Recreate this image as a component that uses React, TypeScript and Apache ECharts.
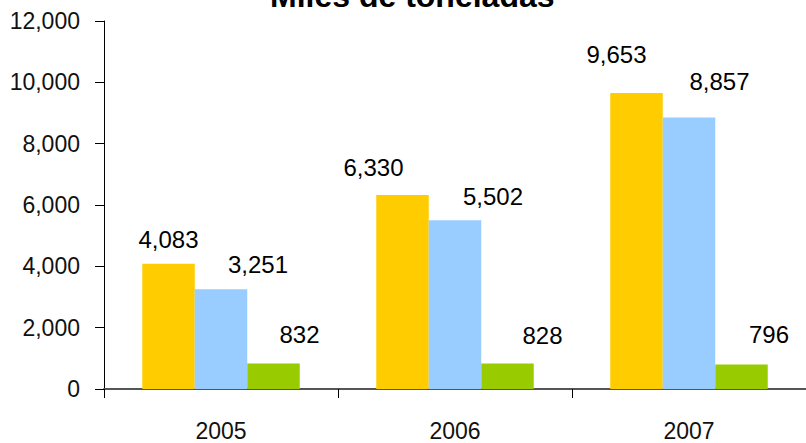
import React, { useEffect, useRef } from "react";
import * as echarts from "echarts";

const TITLE = "Miles de toneladas";
const categories = ["2005", "2006", "2007"];
const serieA = [4083, 6330, 9653];
const serieB = [3251, 5502, 8857];
const serieC = [832, 828, 796];
const yTicks = { min: 0, max: 12000, interval: 2000 };

// label shifts (layout only)
const shiftA = [[0, -12.6], [-29, -15.6], [-20, -26.6]];
const shiftB = [[37, -12.6], [38, -11.6], [30.5, -23.6]];
const shiftC = [[26, -17], [35, -16.6], [27.5, -17.6]];

const fmt = (v: number) => v.toLocaleString("en-US");

export default function App() {
  const ref = useRef<HTMLDivElement>(null);
  useEffect(() => {
    if (!ref.current) return;
    const chart = echarts.init(ref.current, null, { renderer: "svg" });
    const mk = (name: string, vals: number[], color: string, shifts: number[][]) => ({
      name,
      type: "bar",
      barGap: "0%",
      barCategoryGap: "32.7%",
      itemStyle: { color },
      label: {
        show: true,
        position: "top",
        distance: 0,
        formatter: (p: any) => fmt(p.value),
        fontFamily: "Liberation Sans, Arial, sans-serif",
        fontSize: 24,
        color: "#000",
      },
      data: vals.map((v, i) => ({ value: v, label: { offset: shifts[i] } })),
    });
    chart.setOption({
      animation: false,
      title: {
        text: TITLE,
        left: 270,
        top: -20,
        padding: 0,
        textStyle: {
          fontFamily: "Liberation Sans, Arial, sans-serif",
          fontWeight: "bold",
          fontSize: 32,
          color: "#000",
        },
      },
      grid: { left: 104, right: 0, top: 21, bottom: 54, containLabel: false },
      xAxis: {
        type: "category",
        data: categories,
        boundaryGap: true,
        axisLine: { show: true, lineStyle: { color: "#555", width: 2 } },
        axisTick: { show: true, length: 9, lineStyle: { color: "#000", width: 1 } },
        axisLabel: {
          margin: 30,
          fontFamily: "Liberation Sans, Arial, sans-serif",
          fontSize: 23,
          color: "#111",
        },
      },
      yAxis: {
        type: "value",
        min: yTicks.min,
        max: yTicks.max,
        interval: yTicks.interval,
        splitLine: { show: false },
        axisLine: { show: true, lineStyle: { color: "#000", width: 1 } },
        axisTick: { show: true, length: 9, lineStyle: { color: "#000", width: 1 } },
        axisLabel: {
          margin: 24,
          formatter: (v: number) => fmt(v),
          fontFamily: "Liberation Sans, Arial, sans-serif",
          fontSize: 23,
          color: "#111",
        },
      },
      series: [
        mk("A", serieA, "#FFCC00", shiftA),
        mk("B", serieB, "#99CCFF", shiftB),
        mk("C", serieC, "#99CC00", shiftC),
      ],
    });
    return () => chart.dispose();
  }, []);
  return <div ref={ref} style={{ width: 806, height: 443, position: "absolute", left: 0, top: 0 }} />;
}
